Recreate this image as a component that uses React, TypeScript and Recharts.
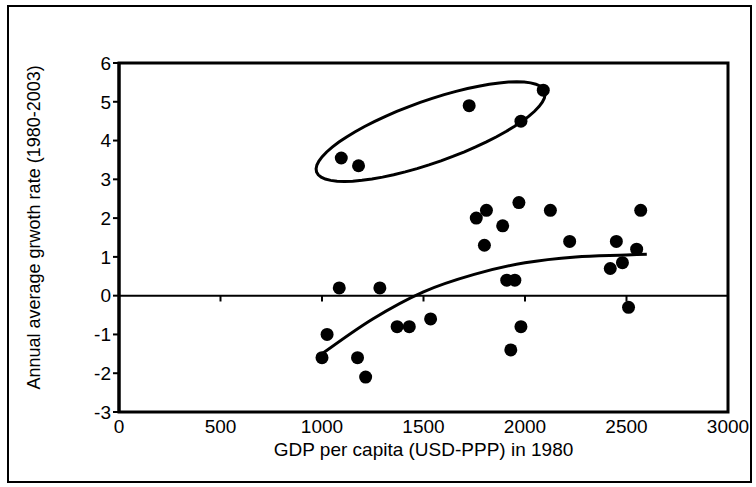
import React from 'react';
import { ComposedChart, Scatter, Line, XAxis, YAxis, ReferenceLine, ReferenceArea } from 'recharts';

const gdp = [1000, 1025, 1085, 1095, 1180, 1175, 1215, 1285, 1370, 1430, 1535, 1725, 1760, 1810, 1800, 1890, 1910, 1950, 1970, 1980, 2090, 2125, 1980, 1930, 2220, 2420, 2450, 2480, 2510, 2550, 2570];
const growth = [-1.6, -1.0, 0.2, 3.55, 3.35, -1.6, -2.1, 0.2, -0.8, -0.8, -0.6, 4.9, 2.0, 2.2, 1.3, 1.8, 0.4, 0.4, 2.4, 4.5, 5.3, 2.2, -0.8, -1.4, 1.4, 0.7, 1.4, 0.85, -0.3, 1.2, 2.2];
const trendX = [1000, 1250, 1500, 1750, 2000, 2250, 2500, 2600];
const trendY = [-1.5, -0.6, 0.1, 0.55, 0.85, 1.0, 1.05, 1.07];
const xTicks = [0, 500, 1000, 1500, 2000, 2500, 3000];
const yTicks = [-3, -2, -1, 0, 1, 2, 3, 4, 5, 6];

const points = gdp.map((x, i) => ({ x, y: growth[i] }));
const trend = trendX.map((x, i) => ({ x, y: trendY[i] }));

// annotation ellipse, shaped in screen aspect then mapped to data units
const pxPerX = 0.203;
const pxPerY = 38.8;
const ellipse = Array.from({ length: 61 }, (_, k) => {
  const t = (k / 60) * 2 * Math.PI;
  const a = 121, b = 31, ang = (-19.5 * Math.PI) / 180;
  const dx = a * Math.cos(t) * Math.cos(ang) - b * Math.sin(t) * Math.sin(ang);
  const dy = a * Math.cos(t) * Math.sin(ang) + b * Math.sin(t) * Math.cos(ang);
  return { x: 1535 + dx / pxPerX, y: 4.23 - dy / pxPerY };
});

const font = { fontFamily: 'Liberation Sans, Arial, sans-serif', fontSize: 18, fill: '#000' };

export default function App() {
  return (
    <div style={{ position: 'absolute', left: 0, top: 0, width: 756, height: 487, background: '#fff' }}>
      <div style={{ position: 'absolute', left: 7, top: 5, width: 741, height: 474, border: '2px solid #000' }} />
      <ComposedChart width={756} height={487} margin={{ top: 63, right: 28, left: 74, bottom: 35 }}>
        <XAxis type="number" dataKey="x" domain={[0, 3000]} ticks={xTicks} axisLine={false} tickLine={false}
          tick={{ ...font, fontSize: 19 }} height={40}
          label={{ value: 'GDP per capita (USD-PPP) in 1980', position: 'insideBottom', offset: -4, style: { ...font, fontSize: 19 } }} />
        <YAxis type="number" dataKey="y" domain={[-3, 6]} ticks={yTicks} width={45} tick={{ ...font, fontSize: 19 }}
          axisLine={{ stroke: '#000', strokeWidth: 3 }} tickLine={{ stroke: '#000', strokeWidth: 2 }} tickSize={6}
          label={{ value: 'Annual average grwoth rate (1980-2003)', angle: -90, position: 'insideLeft', offset: -40, dy: 152, style: font }} />
        <ReferenceArea x1={0} x2={3000} y1={-3} y2={6} fill="none" stroke="#000" strokeWidth={3} />
        <ReferenceLine y={0} stroke="#000" strokeWidth={2} />
        {xTicks.slice(1, -1).map((t) => (
          <ReferenceLine key={t} segment={[{ x: t, y: 0 }, { x: t, y: -0.15 }]} stroke="#000" strokeWidth={2} />
        ))}
        <Scatter data={points} fill="#000" isAnimationActive={false}
          shape={(p: any) => <circle cx={p.cx} cy={p.cy} r={6.5} fill="#000" />} />
        <Line data={trend} dataKey="y" type="monotone" stroke="#000" strokeWidth={3} dot={false} isAnimationActive={false} />
        <Line data={ellipse} dataKey="y" type="linear" stroke="#000" strokeWidth={3} dot={false} isAnimationActive={false} />
      </ComposedChart>
    </div>
  );
}
